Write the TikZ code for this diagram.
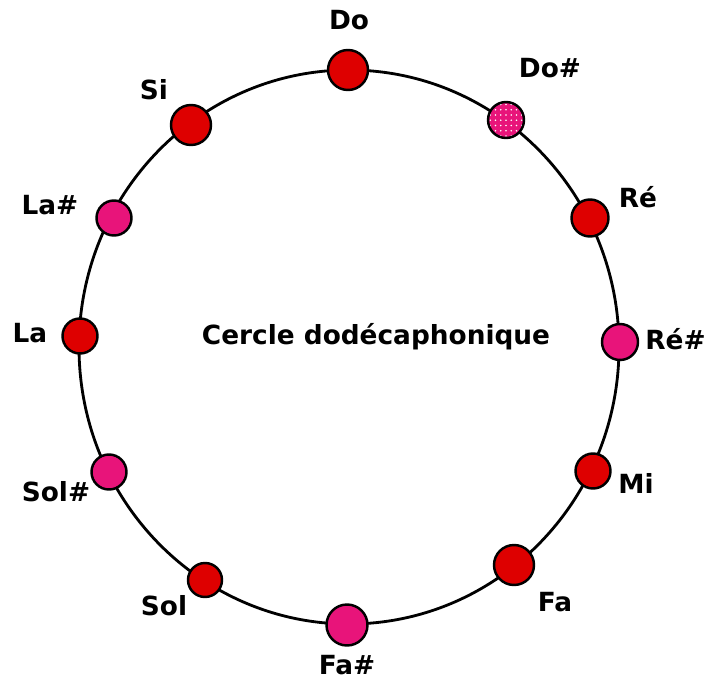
\documentclass[tikz,border=0pt]{standalone}
\usepackage{fontspec}
\setmainfont{DejaVu Sans}
\usetikzlibrary{patterns}
\definecolor{notered}{RGB}{222,0,0}
\definecolor{notepink}{RGB}{232,20,122}
\tikzset{%
  note/.style={circle, draw=black, line width=1.4pt, inner sep=0pt},
  natural/.style={note, fill=notered},
  sharp/.style={note, fill=notepink},
  dotted sharp/.style={note, preaction={fill=notepink},
                       pattern=dots, pattern color=white},
  notename/.style={font=\fontsize{15}{17}\selectfont\bfseries, inner sep=0pt},
}

\begin{document}
\begin{tikzpicture}[x=0.02cm, y=-0.02cm]

    % frame of the picture
    \useasboundingbox (0,0) rectangle (709,679);

    % the circle
    \draw[line width=1.6pt] (349,347) ellipse [x radius=270, y radius=277];

    % notes on the circle
    \node[natural, minimum size=40*0.02cm] (Do) at (348,70) {};
    \node[dotted sharp, minimum size=36*0.02cm] (DoS) at (506,120) {};
    \node[natural, minimum size=37*0.02cm] (Re) at (590,218) {};
    \node[sharp, minimum size=36*0.02cm] (ReS) at (620,342) {};
    \node[natural, minimum size=35*0.02cm] (Mi) at (593,471) {};
    \node[natural, minimum size=40*0.02cm] (Fa) at (514,565) {};
    \node[sharp, minimum size=41*0.02cm] (FaS) at (347,625) {};
    \node[natural, minimum size=34*0.02cm] (Sol) at (205,580) {};
    \node[sharp, minimum size=35*0.02cm] (SolS) at (109,472) {};
    \node[natural, minimum size=35*0.02cm] (La) at (80,336) {};
    \node[sharp, minimum size=35*0.02cm] (LaS) at (114,218) {};
    \node[natural, minimum size=40*0.02cm] (Si) at (191,125) {};

    % names of the notes
    \node[notename] (Do label) at (349,20) {Do};
    \node[notename] (DoS label) at (550,68) {Do\#};
    \node[notename] (Re label) at (638,197) {Ré};
    \node[notename, anchor=east] (ReS label) at (706,339) {Ré\#};
    \node[notename] (Mi label) at (636,483) {Mi};
    \node[notename] (Fa label) at (555,602) {Fa};
    \node[notename] (FaS label) at (347,665) {Fa\#};
    \node[notename] (Sol label) at (164,606) {Sol};
    \node[notename] (SolS label) at (56,492) {Sol\#};
    \node[notename] (La label) at (30,333) {La};
    \node[notename] (LaS label) at (50,205) {La\#};
    \node[notename] (Si label) at (154,90) {Si};

    % title in the middle
    \node[notename] (title) at (376,337) {Cercle dodécaphonique};

\end{tikzpicture}
\end{document}
